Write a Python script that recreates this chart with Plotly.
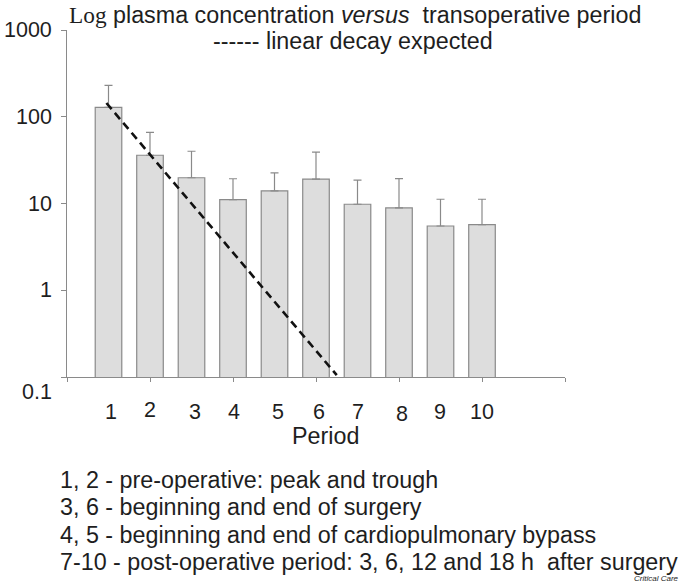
import math
import plotly.graph_objects as go

periods = [1, 2, 3, 4, 5, 6, 7, 8, 9, 10]
means = [128, 36, 19.8, 11.1, 14.0, 19.1, 9.8, 8.9, 5.5, 5.7]
err_top = [230, 66, 40, 19.3, 22.6, 39.2, 18.6, 19.4, 11.2, 11.2]
plus = [t - m for t, m in zip(err_top, means)]

decay_x = [0.95, 6.5]
decay_y = [144, 0.105]

x_label_pos = [1.05, 2.0, 3.08, 4.03, 5.08, 6.08, 7.02, 8.08, 8.98, 10.0]
x_label_off = [0, -2, 0, 0, 0, 0, 0, 2, 0, 0]
x_labels = ["1", "2", "3", "4", "5", "6", "7", "8", "9", "10"]
y_tick_vals = [1000, 100, 10, 1, 0.1]
y_tick_text = ["1000", "100", "10", "1", "0.1"]

notes = [
    "1, 2 - pre-operative: peak and trough",
    "3, 6 - beginning and end of surgery",
    "4, 5 - beginning and end of cardiopulmonary bypass",
    "7-10 - post-operative period: 3, 6, 12 and 18 h  after surgery",
]

W, H = 685, 584
FONT = "Liberation Sans, Arial, sans-serif"
TXT = "#1e1e1e"
BIG = 23.3
TICK = 21.5


def py(p):
    return 1 - p / H


def px(p):
    return p / W


fig = go.Figure()
fig.add_trace(go.Bar(
    x=periods, y=means, width=0.64,
    marker=dict(color="#dddddd", line=dict(color="#8a8a8a", width=1.2)),
    error_y=dict(type="data", symmetric=False, array=plus,
                 arrayminus=[0] * len(plus), color="#8a8a8a",
                 thickness=1.2, width=4),
    showlegend=False, hoverinfo="skip",
))
fig.add_trace(go.Scatter(
    x=decay_x, y=decay_y, mode="lines",
    line=dict(color="#111111", width=2.6, dash="8px,5px"),
    showlegend=False, hoverinfo="skip",
))

ann = []
ann.append(dict(
    x=px(355), y=py(15), xref="paper", yref="paper", showarrow=False,
    text='<span style="font-family:Liberation Serif, Times New Roman, serif">Log</span>'
         ' plasma concentration <i>versus</i>  transoperative period',
    font=dict(family=FONT, size=BIG, color=TXT), xanchor="center", yanchor="middle"))
ann.append(dict(
    x=px(353), y=py(41), xref="paper", yref="paper", showarrow=False,
    text="------ linear decay expected",
    font=dict(family=FONT, size=BIG, color=TXT), xanchor="center", yanchor="middle"))

for v, t in zip(y_tick_vals, y_tick_text):
    ann.append(dict(
        x=px(54), y=math.log10(v), xref="paper", yref="y",
        showarrow=False, text=t, xanchor="right", yanchor="middle",
        yshift=-15 if v == 0.1 else 0,
        font=dict(family=FONT, size=TICK, color=TXT)))

for xp, off, t in zip(x_label_pos, x_label_off, x_labels):
    ann.append(dict(
        x=xp, y=py(412 + off), xref="x", yref="paper", showarrow=False,
        text=t, xanchor="center", yanchor="middle",
        font=dict(family=FONT, size=TICK, color=TXT)))

ann.append(dict(
    x=px(325), y=py(436), xref="paper", yref="paper", showarrow=False,
    text="Period", xanchor="center", yanchor="middle",
    font=dict(family=FONT, size=BIG, color=TXT)))

for i, n in enumerate(notes):
    ann.append(dict(
        x=px(58), y=py(480 + 27.3 * i), xref="paper", yref="paper",
        showarrow=False, text=n, xanchor="left", yanchor="middle",
        font=dict(family=FONT, size=BIG, color=TXT)))

ann.append(dict(
    x=px(681), y=py(585), xref="paper", yref="paper", showarrow=False,
    text="<i>Critical Care</i>", xanchor="right", yanchor="bottom",
    font=dict(family=FONT, size=8, color=TXT)))

fig.update_layout(
    width=W, height=H,
    margin=dict(l=0, r=0, t=0, b=0),
    paper_bgcolor="white", plot_bgcolor="white",
    annotations=ann,
    xaxis=dict(domain=[px(67), px(565)], range=[0, 12],
               tickvals=[0, 2, 4, 6, 8, 10, 12], showticklabels=False,
               ticks="outside", ticklen=4, tickcolor="#8a8a8a",
               showline=True, linecolor="#8a8a8a", linewidth=1.2,
               showgrid=False, zeroline=False),
    yaxis=dict(domain=[py(377), py(30)], type="log", range=[-1, 3],
               tickvals=y_tick_vals, showticklabels=False,
               ticks="outside", ticklen=5, tickcolor="#8a8a8a",
               showline=True, linecolor="#8a8a8a", linewidth=1.2,
               showgrid=False, zeroline=False),
)

fig.write_html("out.html",
               config={"displayModeBar": False},
               post_script="document.body.style.margin='0px';"
                           "document.body.style.overflow='hidden';")
